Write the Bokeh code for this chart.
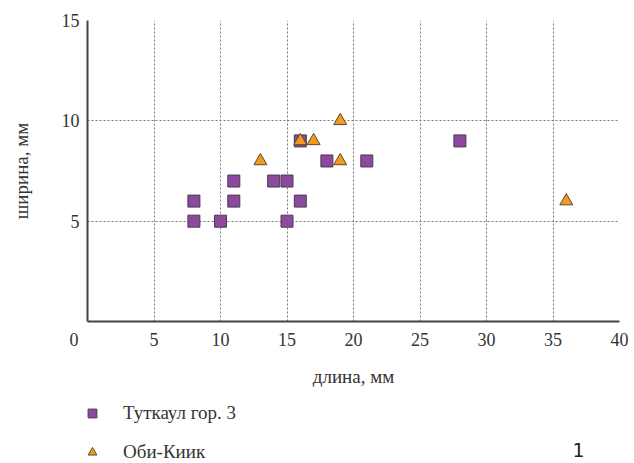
from bokeh.plotting import figure
from bokeh.layouts import column
from bokeh.models import Legend, LegendItem, Label, FixedTicker, Range1d
from bokeh.embed import file_html
from bokeh.resources import INLINE

# Data
tutkaul_len = [8, 8, 10, 11, 11, 14, 15, 15, 16, 16, 18, 21, 28]
tutkaul_wid = [6, 5, 5, 7, 6, 7, 7, 5, 6, 9, 8, 8, 9]
obi_len = [13, 16, 17, 19, 19, 36]
obi_wid = [8, 9, 9, 10, 8, 6]
x_ticks = [0, 5, 10, 15, 20, 25, 30, 35, 40]
y_ticks = [5, 10, 15]
series_names = ["Туткаул гор. 3", "Оби-Киик"]
panel_number = "1"

SERIF = "Liberation Serif"
FS = "\u2007"
PURPLE = "#8C4A9E"
ORANGE = "#F29A1D"
SQ_LINE = "#4a3a50"
TR_LINE = "#5a4a30"

p = figure(width=634, height=392, output_backend="svg", toolbar_location=None,
           x_range=Range1d(0, 40), y_range=Range1d(0, 15),
           min_border_left=87, min_border_right=15, min_border_top=20, min_border_bottom=71)
p.outline_line_color = None
p.background_fill_color = "white"
p.border_fill_color = "white"

for ax in (p.xaxis, p.yaxis):
    ax.axis_line_color = "#444444"
    ax.axis_line_width = 2
    ax.major_tick_line_color = None
    ax.minor_tick_line_color = None
    ax.major_label_text_font = SERIF
    ax.major_label_text_font_size = "18px"
    ax.major_label_text_color = "#333333"
    ax.axis_label_text_font = SERIF
    ax.axis_label_text_font_size = "19px"
    ax.axis_label_text_font_style = "normal"
    ax.axis_label_text_color = "#333333"

p.xaxis.ticker = FixedTicker(ticks=x_ticks)
p.xaxis.major_label_overrides = {0: "0" + FS * 3}
p.yaxis.ticker = FixedTicker(ticks=y_ticks)
p.xaxis.major_label_standoff = 2
p.yaxis.major_label_standoff = 2
p.xaxis.axis_label = "длина, мм"
p.yaxis.axis_label = "ширина, мм"
p.xaxis.axis_label_standoff = 13
p.yaxis.axis_label_standoff = 27

for g in (p.xgrid, p.ygrid):
    g.grid_line_color = "#777777"
    g.grid_line_dash = "2 2"
    g.grid_line_width = 1
p.xgrid.ticker = FixedTicker(ticks=x_ticks[1:])
p.ygrid.ticker = FixedTicker(ticks=y_ticks)

p.scatter(tutkaul_len, tutkaul_wid, marker="square", size=12,
          fill_color=PURPLE, line_color=SQ_LINE, line_width=1)
p.scatter(obi_len, obi_wid, marker="triangle", size=13,
          fill_color=ORANGE, line_color=TR_LINE, line_width=1)

# Legend strip below the chart (its ranges keep the series' own points out of view).
# Its frame is aligned with the chart's frame (starts at x=87).
q = figure(width=634, height=71, output_backend="svg", toolbar_location=None,
           x_range=Range1d(1000, 1634), y_range=Range1d(1000, 1071),
           x_axis_location=None, y_axis_location=None,
           min_border_left=87, min_border_right=15, min_border_top=0, min_border_bottom=0)
q.grid.visible = False
q.outline_line_color = None
q.border_fill_color = "white"
q.background_fill_color = "white"
lr1 = q.scatter(tutkaul_len, tutkaul_wid, marker="square", size=12,
                fill_color=PURPLE, line_color=SQ_LINE, line_width=1)
lr2 = q.scatter(obi_len, obi_wid, marker="triangle", size=13,
                fill_color=ORANGE, line_color=TR_LINE, line_width=1)
legend = Legend(items=[LegendItem(label=series_names[0], renderers=[lr1]),
                       LegendItem(label=series_names[1], renderers=[lr2])],
                location=(-6, 0), orientation="vertical",
                label_text_font=SERIF, label_text_font_size="19px",
                label_text_color="#333333",
                glyph_width=22, glyph_height=22, label_height=22,
                spacing=17, padding=0, margin=0, label_standoff=20,
                border_line_color=None, background_fill_alpha=0)
q.add_layout(legend, "center")

one = Label(x=491, y=14, x_units="screen", y_units="screen", text=panel_number,
            text_font="DejaVu Sans", text_font_size="19px", text_color="#222222",
            text_align="center", text_baseline="middle")
q.add_layout(one)

open("out.html", "w").write(file_html(column(p, q, spacing=0), INLINE))
